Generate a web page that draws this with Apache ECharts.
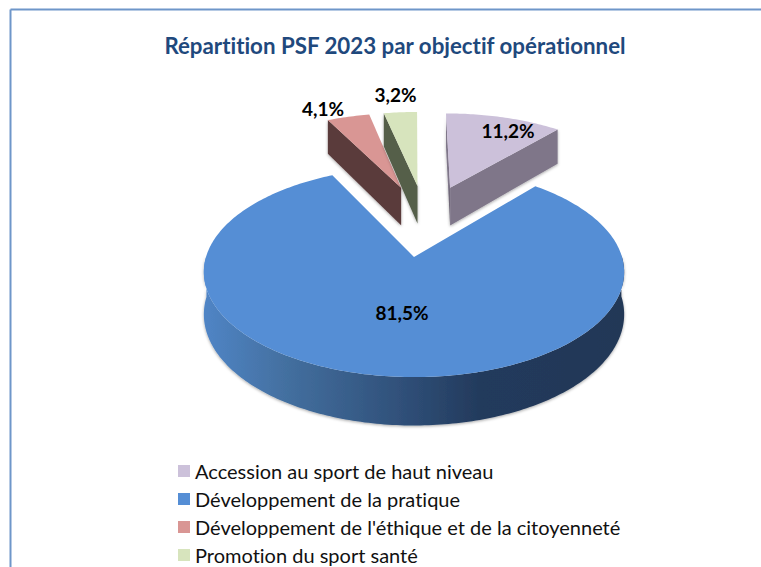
<!DOCTYPE html>
<html>
<head>
<meta charset="utf-8">
<script src="https://cdn.jsdelivr.net/npm/echarts@6/dist/echarts.min.js"></script>
<style>html,body{margin:0;padding:0;background:#fff}#c{width:761px;height:567px}svg text{font-variant-ligatures:none}</style>
</head>
<body>
<div id="c"></div>
<script>
// Data
const titleText = 'Répartition PSF 2023 par objectif opérationnel';
const categories = ['Accession au sport de haut niveau', 'Développement de la pratique', "Développement de l'éthique et de la citoyenneté", 'Promotion du sport santé'];
const shares = [11.2, 81.5, 4.1, 3.2];

// Styles
const topColors = ['#ccc1da', '#558ed5', '#d99694', '#d7e4bd'];
const sideColors = ['#7f7689', '#2f4f78', '#5a3a3a', '#555e49'];
const facesShown = [['start', 'end'], ['rim'], ['start'], ['start']];
const labelOffsets = [[58, -57], [-12, 55], [-78, -79], [-22, -92]];

// Perspective projection of the pie's plane
const view = { x: 414, y: 257, fx: 208, fy: 102.9, k: 0.143, depth: 41.5, explode: 0.39, nudgeU: 0.01, nudgeV: 0.01 };
const mainIndex = 1;
const dirMain = (function () {
  const total = shares.reduce((a, b) => a + b, 0);
  const mid = (shares[0] + shares[1] / 2) / total * 2 * Math.PI;
  return [Math.sin(mid), -Math.cos(mid)];
})();
function project(u, v, lower) {
  const w = 1 + view.k * -v;
  return [view.x + view.fx * u / w, view.y + view.fy * v / w + (lower ? view.depth / w : 0)];
}

function sliceGeometry(index) {
  const total = shares.reduce((a, b) => a + b, 0);
  let before = 0;
  for (let i = 0; i < index; i++) before += shares[i];
  const a0 = before / total * 2 * Math.PI;
  const a1 = (before + shares[index]) / total * 2 * Math.PI;
  const mid = (a0 + a1) / 2;
  const e = view.explode;
  // pie centre sits opposite the main slice's own offset
  let cu = -e * dirMain[0] + e * Math.sin(mid);
  let cv = -e * dirMain[1] - e * Math.cos(mid);
  if (index !== mainIndex) { cu += view.nudgeU; cv += view.nudgeV; }
  return { a0, a1, cu, cv };
}

function renderSlice(index) {
  return function (params, api) {
    const share = api.value(0);
    const g = sliceGeometry(index);
    const rim = a => [g.cu + Math.sin(a), g.cv - Math.cos(a)];
    const steps = Math.max(8, Math.ceil((g.a1 - g.a0) * 60));
    const top = [project(g.cu, g.cv)];
    const rimAngles = [];
    for (let s = 0; s <= steps; s++) {
      const a = g.a0 + (g.a1 - g.a0) * s / steps;
      rimAngles.push(a);
      const p = rim(a);
      top.push(project(p[0], p[1]));
    }
    const children = [];
    const shadow = { shadowBlur: 3, shadowColor: 'rgba(0,0,0,0.35)', shadowOffsetY: 1 };
    facesShown[index].forEach(function (face) {
      let pts;
      let fill = sideColors[index];
      if (face === 'rim') {
        const vis = rimAngles.filter(a => Math.cos(a) <= 0.02);
        const up = vis.map(a => { const p = rim(a); return project(p[0], p[1]); });
        const low = vis.map(a => { const p = rim(a); return project(p[0], p[1], true); }).reverse();
        pts = up.concat(low);
        fill = new echarts.graphic.LinearGradient(203, 0, 624, 0, [
          { offset: 0, color: '#5085c6' },
          { offset: 0.2, color: '#436f9f' },
          { offset: 0.48, color: '#2f4f78' },
          { offset: 0.66, color: '#233a5c' },
          { offset: 1, color: '#233857' }
        ], true);
      } else {
        const p = rim(face === 'start' ? g.a0 : g.a1);
        pts = [project(g.cu, g.cv), project(p[0], p[1]), project(p[0], p[1], true), project(g.cu, g.cv, true)];
      }
      children.push({ type: 'polygon', shape: { points: pts }, style: Object.assign({ fill: fill }, shadow) });
    });
    children.push({ type: 'polygon', shape: { points: top }, style: { fill: topColors[index] } });
    const apex = top[0];
    children.push({
      type: 'text',
      z2: 10,
      style: {
        x: apex[0] + labelOffsets[index][0],
        y: apex[1] + labelOffsets[index][1],
        text: share.toFixed(1).replace('.', ',') + '%',
        fill: '#000',
        font: 'bold 19px Lato',
        textAlign: 'center',
        textVerticalAlign: 'middle'
      }
    });
    return { type: 'group', children: children };
  };
}

const chart = echarts.init(document.getElementById('c'), null, { renderer: 'svg' });
chart.setOption({
  animation: false,
  backgroundColor: '#fff',
  title: {
    text: titleText,
    left: 390,
    top: 29,
    textAlign: 'center',
    textStyle: { fontFamily: 'Lato', fontWeight: 'bold', fontSize: 22.3, color: '#1f497d' }
  },
  legend: {
    orient: 'vertical',
    left: 178,
    top: 460,
    height: 120,
    padding: 0,
    icon: 'rect',
    itemWidth: 12,
    itemHeight: 12,
    itemGap: 6,
    selectedMode: false,
    data: categories,
    textStyle: { fontFamily: 'Lato', fontSize: 20, color: '#111', lineHeight: 22 }
  },
  graphic: [
    { type: 'line', silent: true, shape: { x1: 10.5, y1: 9.5, x2: 761, y2: 9.5 }, style: { stroke: '#6e96c9', lineWidth: 2 } },
    { type: 'line', silent: true, shape: { x1: 10.5, y1: 9.5, x2: 10.5, y2: 567 }, style: { stroke: '#6e96c9', lineWidth: 2 } }
  ],
  series: categories.map(function (name, i) {
    return {
      type: 'custom',
      name: name,
      coordinateSystem: 'none',
      silent: true,
      itemStyle: { color: topColors[i] },
      data: [shares[i]],
      renderItem: renderSlice(i)
    };
  })
});
</script>
</body>
</html>
